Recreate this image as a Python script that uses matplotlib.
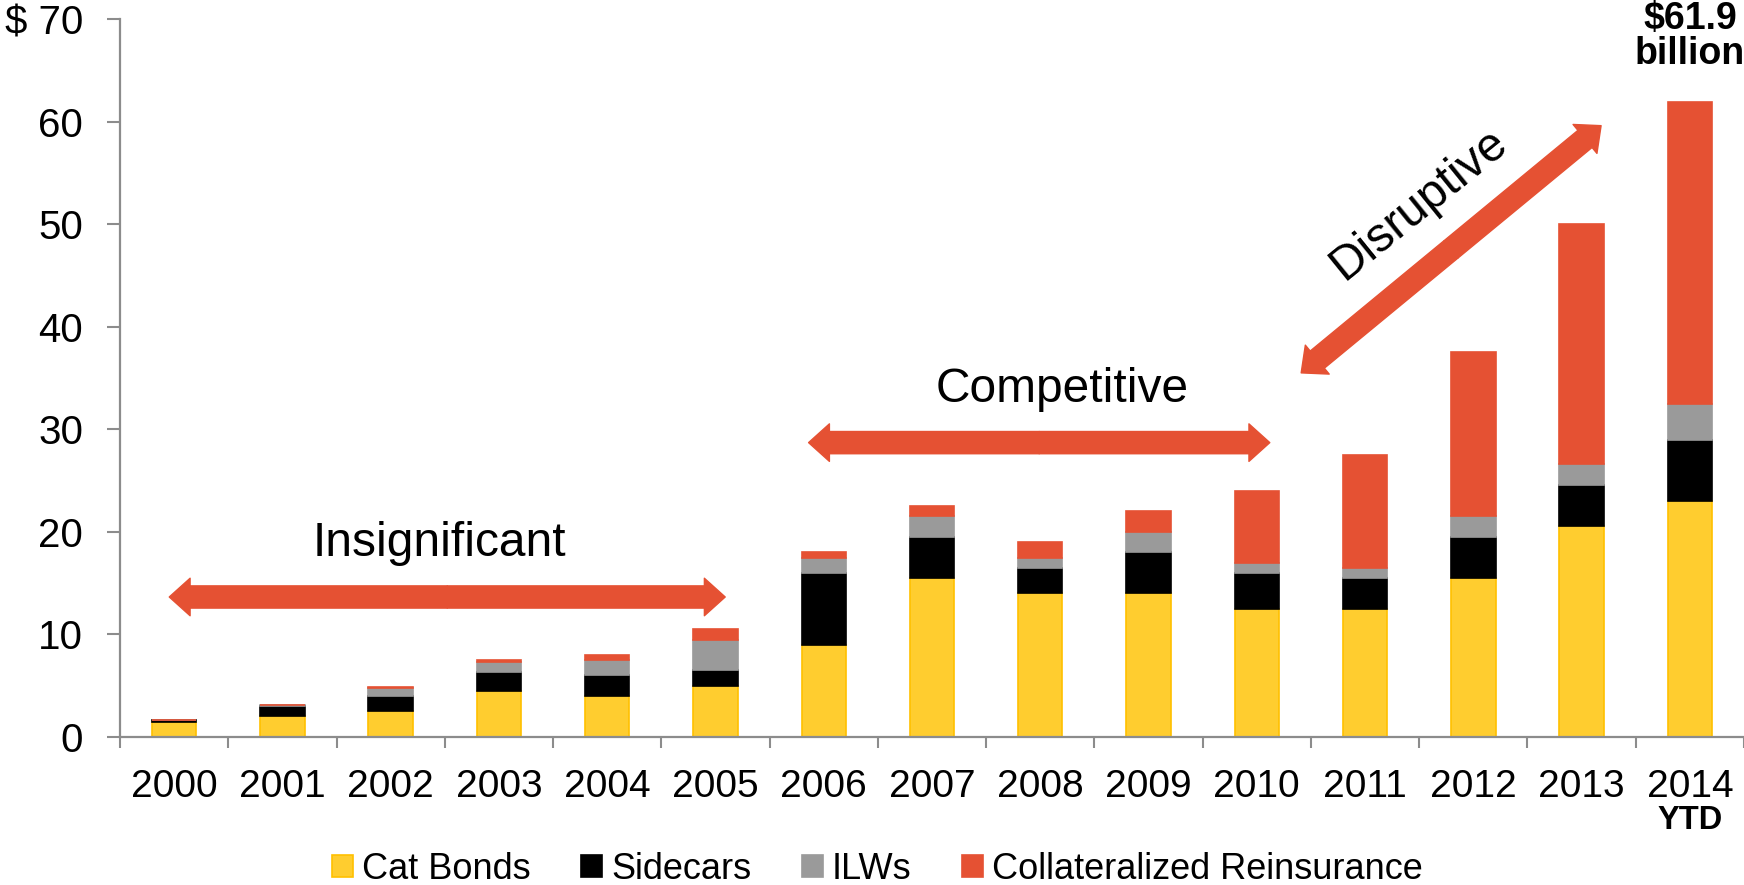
import numpy as np
import matplotlib
matplotlib.use("Agg")
import matplotlib.pyplot as plt
from matplotlib.patches import FancyArrowPatch

plt.rcParams['font.family'] = ['Liberation Sans', 'DejaVu Sans']

years = ['2000', '2001', '2002', '2003', '2004', '2005', '2006', '2007',
         '2008', '2009', '2010', '2011', '2012', '2013', '2014']
cat_bonds = [1.5, 2.0, 2.5, 4.5, 4.0, 5.0, 9.0, 15.5, 14.0, 14.0, 12.5, 12.5, 15.5, 20.6, 23.0]
sidecars = [0.2, 1.0, 1.5, 1.8, 2.0, 1.5, 7.0, 4.0, 2.5, 4.0, 3.5, 3.0, 4.0, 4.0, 6.0]
ilws = [0.0, 0.15, 0.75, 1.0, 1.5, 3.0, 1.5, 2.0, 1.0, 2.0, 1.0, 1.0, 2.0, 2.0, 3.5]
collat_re = [0.0, 0.0, 0.15, 0.2, 0.5, 1.0, 0.5, 1.0, 1.5, 2.0, 7.0, 11.0, 16.0, 23.4, 29.4]
y_ticks = [0, 10, 20, 30, 40, 50, 60, 70]
y_labels = ['0', '10', '20', '30', '40', '50', '60', '$ 70']

series = [
    ('Cat Bonds', cat_bonds, '#FFCD2F', '#FFC000'),
    ('Sidecars', sidecars, '#000000', '#000000'),
    ('ILWs', ilws, '#9A9A9A', '#9A9A9A'),
    ('Collateralized Reinsurance', collat_re, '#E55133', '#E55133'),
]

red = '#E55133'
axis_grey = '#8C8C8C'

fig = plt.figure(figsize=(17.44, 8.85), dpi=100)
ax = fig.add_axes([120 / 1744, 148 / 885, 1624 / 1744, 718 / 885])

x = np.arange(len(years))
bottom = np.zeros(len(years))
for name, vals, fc, ec in series:
    vals = np.array(vals)
    ax.bar(x, vals, width=0.41, bottom=bottom, color=fc, edgecolor=ec,
           linewidth=1.2, label=name)
    bottom += vals

ax.set_xlim(-0.5, len(years) - 0.5)
ax.set_ylim(0, 70)

for s in ['top', 'right']:
    ax.spines[s].set_visible(False)
for s in ['left', 'bottom']:
    ax.spines[s].set_color(axis_grey)
    ax.spines[s].set_linewidth(1.6)

ax.set_yticks(y_ticks)
ax.set_yticklabels(y_labels)
ax.tick_params(axis='y', direction='out', length=9.5, width=1.5,
               color=axis_grey, labelsize=29, pad=17)

ax.set_xticks(x)
ax.set_xticklabels(years)
ax.set_xticks(np.arange(-0.5, len(years), 1.0), minor=True)
ax.tick_params(axis='x', which='major', length=0, labelsize=28, pad=23)
ax.tick_params(axis='x', which='minor', direction='out', length=8,
               width=1.5, color=axis_grey)

ax.text(14, -8.1, 'YTD', ha='center', va='center', fontsize=23.5,
        fontweight='bold', clip_on=False)
ax.text(14, 68.3, '$61.9\nbillion', ha='center', va='center', fontsize=27,
        fontweight='bold', linespacing=0.95, clip_on=False)


def double_arrow(x0, y0, x1, y1):
    xm, ym = (x0 + x1) / 2, (y0 + y1) / 2
    style = 'simple,head_width=27,head_length=15,tail_width=16'
    for xe, ye in [(x0, y0), (x1, y1)]:
        ax.add_patch(FancyArrowPatch((xm, ym), (xe, ye), arrowstyle=style,
                                     mutation_scale=1, color=red,
                                     shrinkA=0, shrinkB=0, clip_on=False))


double_arrow(-0.045, 13.65, 5.09, 13.65)
double_arrow(5.86, 28.7, 10.12, 28.7)
double_arrow(10.41, 35.5, 13.18, 59.6)

ax.text(2.45, 18.9, 'Insignificant', ha='center', va='center', fontsize=34.5)
ax.text(8.2, 33.9, 'Competitive', ha='center', va='center', fontsize=34.5)
ax.text(11.5, 51.9, 'Disruptive', ha='center', va='center', fontsize=34.5,
        rotation=39, rotation_mode='anchor')

fig.legend(loc='center', bbox_to_anchor=(0.503, 0.018), ncol=4,
           frameon=False, fontsize=26, handlelength=0.58, handleheight=0.58,
           handletextpad=0.25, columnspacing=1.4, borderaxespad=0)

fig.savefig('out.png', dpi=100)
